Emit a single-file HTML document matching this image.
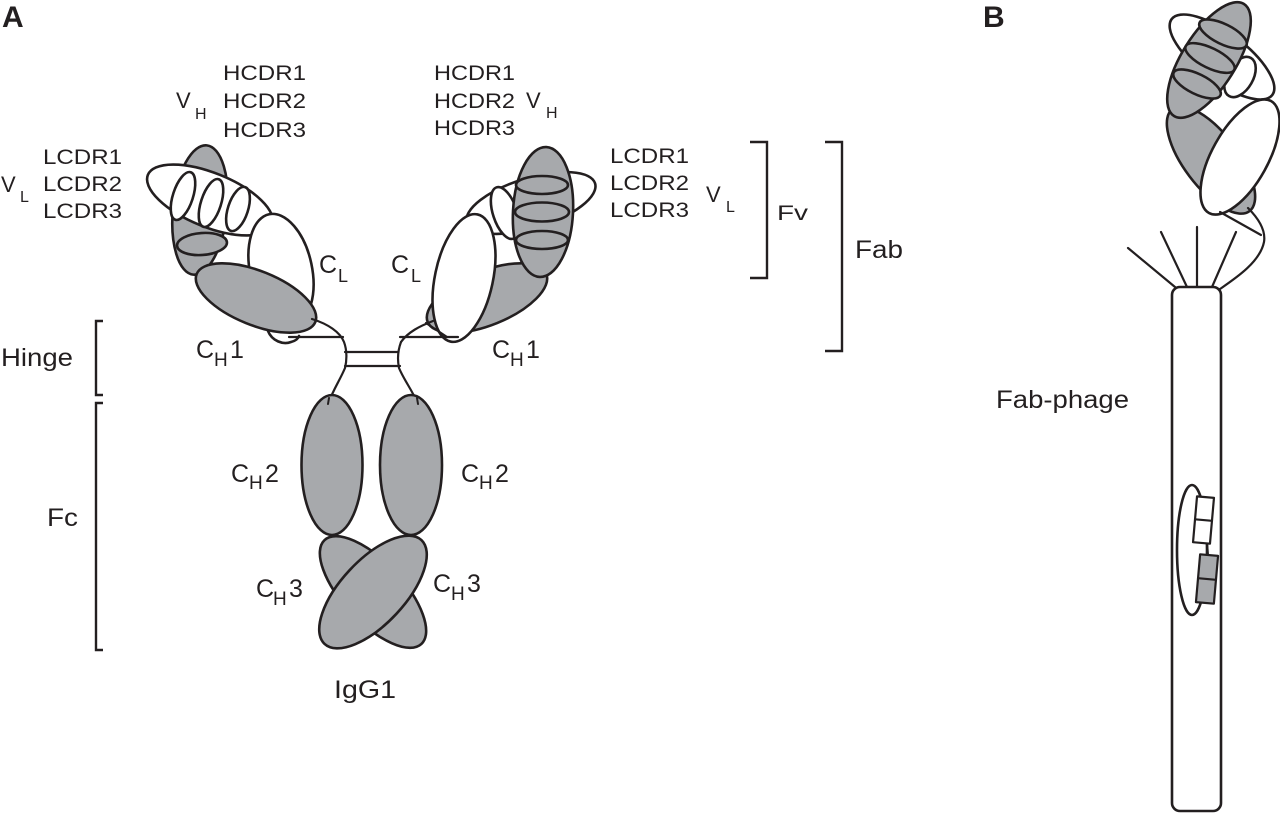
<!DOCTYPE html>
<html>
<head>
<meta charset="utf-8">
<style>
  html,body{margin:0;padding:0;background:#fff;}
  svg{display:block;}
  text{font-family:"Liberation Sans",Arial,sans-serif;fill:#231f20;}
</style>
</head>
<body>
<svg width="1280" height="813" viewBox="0 0 1280 813" xmlns="http://www.w3.org/2000/svg">
  <rect width="1280" height="813" fill="#fff"/>
  <g stroke="#231f20" stroke-width="2.6" stroke-linejoin="round" stroke-linecap="round">

    <!-- ===== LEFT FAB ===== -->
    <ellipse cx="200" cy="210" rx="27" ry="65" transform="rotate(6 200 210)" fill="#a7a9ac"/>
    <ellipse cx="210" cy="200" rx="67" ry="27" transform="rotate(22 210 200)" fill="#fff"/>
    <ellipse cx="183" cy="196" rx="10" ry="25" transform="rotate(18 183 196)" fill="#fff"/>
    <ellipse cx="211" cy="203" rx="10" ry="25" transform="rotate(18 211 203)" fill="#fff"/>
    <ellipse cx="238" cy="209" rx="10" ry="23" transform="rotate(18 238 209)" fill="#fff"/>
    <ellipse cx="202" cy="244" rx="25" ry="11" transform="rotate(-4 202 244)" fill="#a7a9ac"/>
    <ellipse cx="281" cy="270" rx="31" ry="57" transform="rotate(-12 281 270)" fill="#fff"/>
    <path d="M268,331 C272,341 283,345 291,342 C295,341 298,339 299,336" fill="#fff"/>
    <ellipse cx="256" cy="298" rx="64" ry="27" transform="rotate(22 256 298)" fill="#a7a9ac"/>

    <!-- ===== RIGHT FAB ===== -->
    <ellipse cx="531" cy="203" rx="67" ry="25" transform="rotate(-17 531 203)" fill="#fff"/>
    <ellipse cx="505" cy="213" rx="12" ry="27" transform="rotate(-18 505 213)" fill="#fff"/>
    <ellipse cx="487" cy="298" rx="64" ry="27" transform="rotate(-22 487 298)" fill="#a7a9ac"/>
    <ellipse cx="464" cy="278" rx="29" ry="65" transform="rotate(12 464 278)" fill="#fff"/>
    <ellipse cx="543" cy="212" rx="30" ry="65" transform="rotate(3 543 212)" fill="#a7a9ac"/>
    <ellipse cx="542" cy="185" rx="26" ry="9" fill="#a7a9ac"/>
    <ellipse cx="542" cy="212" rx="27" ry="9.5" fill="#a7a9ac"/>
    <ellipse cx="542" cy="240" rx="26" ry="9" fill="#a7a9ac"/>

    <!-- ===== HINGE ===== -->
    <g fill="none" stroke-width="2.2">
      <path d="M312,319 C328,324 340,332 344,342 C347,350 347,360 345,368 C340,380 333,390 329,402"/>
      <path d="M289,337 L343,337"/>
      <path d="M401,342 C398,350 397,358 399,368 C404,380 412,390 417,402"/>
      <path d="M401,342 C408,332 420,326 433,321"/>
      <path d="M400,337 L458,337"/>
      <path d="M426,323 L447,337"/>
      <path d="M345,352 L398,352"/>
      <path d="M345,366 L400,366"/>
    </g>

    <!-- ===== FC ===== -->
    <ellipse cx="332" cy="465" rx="30.5" ry="70" fill="#a7a9ac"/>
    <ellipse cx="411" cy="465" rx="31" ry="70" fill="#a7a9ac"/>
    <path d="M329,398 L328,404 M417,398 L418,404" fill="none" stroke-width="2"/>
    <ellipse cx="373" cy="592" rx="71" ry="30" transform="rotate(47 373 592)" fill="#a7a9ac"/>
    <ellipse cx="373" cy="592" rx="71" ry="32" transform="rotate(-47 373 592)" fill="#a7a9ac"/>

    <!-- ===== BRACKETS ===== -->
    <g fill="none" stroke-width="2.4" stroke-linecap="butt" stroke-linejoin="miter">
      <path d="M103,321 L96,321 L96,395 L103,395"/>
      <path d="M103,403 L96,403 L96,650 L103,650"/>
      <path d="M750,142 L767,142 L767,278 L750,278"/>
      <path d="M825,142 L842,142 L842,351 L825,351"/>
    </g>

    <!-- ===== PANEL B ===== -->
    <ellipse cx="1222" cy="57" rx="63" ry="24" transform="rotate(37 1222 57)" fill="#fff"/>
    <ellipse cx="1240" cy="77" rx="13" ry="22" transform="rotate(30 1240 77)" fill="#fff"/>
    <ellipse cx="1211" cy="160" rx="64" ry="27" transform="rotate(53 1211 160)" fill="#a7a9ac"/>
    <ellipse cx="1209" cy="60" rx="66" ry="27" transform="rotate(-58 1209 60)" fill="#a7a9ac"/>
    <ellipse cx="1223" cy="34" rx="26" ry="10" transform="rotate(26 1223 34)" fill="#a7a9ac"/>
    <ellipse cx="1210" cy="58" rx="27" ry="10" transform="rotate(26 1210 58)" fill="#a7a9ac"/>
    <ellipse cx="1197" cy="84" rx="26" ry="10" transform="rotate(26 1197 84)" fill="#a7a9ac"/>
    <ellipse cx="1240" cy="157" rx="64" ry="28" transform="rotate(-61 1240 157)" fill="#fff"/>
    <g fill="none" stroke-width="2.2">
      <path d="M1220,212 L1261,235"/>
      <path d="M1248,208 C1258,218 1266,230 1264,242 C1260,262 1236,278 1220,289"/>
      <path d="M1128,248 L1175,287"/>
      <path d="M1161,232 L1187,287"/>
      <path d="M1197,227 L1197,287"/>
      <path d="M1236,232 L1212,287"/>
    </g>
    <rect x="1172" y="287" width="49" height="524" rx="8" ry="8" fill="#fff"/>
    <ellipse cx="1192" cy="550" rx="15" ry="65" fill="none"/>
    <g stroke-width="2.2">
      <path d="M1207,543 L1208,556" fill="none"/>
      <rect x="1195" y="497" width="17" height="46" transform="rotate(5 1203 520)" fill="#fff"/>
      <path d="M1195,520 L1212,520" transform="rotate(5 1203 520)"/>
      <rect x="1198" y="555" width="18" height="48" transform="rotate(5 1207 579)" fill="#a7a9ac"/>
      <path d="M1198,579 L1216,579" transform="rotate(5 1207 579)"/>
    </g>
  </g>

  <!-- ===== TEXT ===== -->
  <text x="2" y="27" font-size="30" font-weight="bold">A</text>
  <text x="983" y="27" font-size="30" font-weight="bold">B</text>

  <text x="223" y="80" font-size="21" textLength="83" lengthAdjust="spacingAndGlyphs">HCDR1</text>
  <text x="223" y="108" font-size="21" textLength="83" lengthAdjust="spacingAndGlyphs">HCDR2</text>
  <text x="223" y="137" font-size="21" textLength="83" lengthAdjust="spacingAndGlyphs">HCDR3</text>
  <text x="176" y="108" font-size="22">V</text>
  <text x="195" y="119" font-size="16">H</text>

  <text x="43" y="164" font-size="21" textLength="79" lengthAdjust="spacingAndGlyphs">LCDR1</text>
  <text x="43" y="191" font-size="21" textLength="79" lengthAdjust="spacingAndGlyphs">LCDR2</text>
  <text x="43" y="218" font-size="21" textLength="79" lengthAdjust="spacingAndGlyphs">LCDR3</text>
  <text x="1" y="192" font-size="22">V</text>
  <text x="20" y="202" font-size="16">L</text>

  <text x="434" y="80" font-size="21" textLength="81" lengthAdjust="spacingAndGlyphs">HCDR1</text>
  <text x="434" y="108" font-size="21" textLength="81" lengthAdjust="spacingAndGlyphs">HCDR2</text>
  <text x="434" y="135" font-size="21" textLength="81" lengthAdjust="spacingAndGlyphs">HCDR3</text>
  <text x="526" y="108" font-size="22">V</text>
  <text x="546" y="118" font-size="16">H</text>

  <text x="610" y="163" font-size="21" textLength="79" lengthAdjust="spacingAndGlyphs">LCDR1</text>
  <text x="610" y="190" font-size="21" textLength="79" lengthAdjust="spacingAndGlyphs">LCDR2</text>
  <text x="610" y="217" font-size="21" textLength="79" lengthAdjust="spacingAndGlyphs">LCDR3</text>
  <text x="706" y="202" font-size="22">V</text>
  <text x="726" y="212" font-size="16">L</text>

  <text x="777" y="220" font-size="21" textLength="31" lengthAdjust="spacingAndGlyphs">Fv</text>
  <text x="855" y="258" font-size="25" textLength="48" lengthAdjust="spacingAndGlyphs">Fab</text>
  <text x="1" y="366" font-size="25" textLength="72" lengthAdjust="spacingAndGlyphs">Hinge</text>
  <text x="47" y="526" font-size="25" textLength="31" lengthAdjust="spacingAndGlyphs">Fc</text>

  <!-- C_L -->
  <text x="319" y="273" font-size="25">C</text>
  <text x="338" y="282" font-size="18">L</text>
  <text x="391" y="273" font-size="25">C</text>
  <text x="411" y="282" font-size="18">L</text>

  <!-- C_H1 -->
  <text x="196" y="358" font-size="25">C</text>
  <text x="214" y="366" font-size="19">H</text>
  <text x="230" y="358" font-size="25">1</text>
  <text x="492" y="358" font-size="25">C</text>
  <text x="510" y="366" font-size="19">H</text>
  <text x="526" y="358" font-size="25">1</text>

  <!-- C_H2 -->
  <text x="231" y="482" font-size="25">C</text>
  <text x="249" y="489" font-size="19">H</text>
  <text x="265" y="482" font-size="25">2</text>
  <text x="461" y="482" font-size="25">C</text>
  <text x="479" y="489" font-size="19">H</text>
  <text x="495" y="482" font-size="25">2</text>

  <!-- C_H3 -->
  <text x="256" y="597" font-size="25">C</text>
  <text x="273" y="605" font-size="19">H</text>
  <text x="289" y="597" font-size="25">3</text>
  <text x="433" y="592" font-size="25">C</text>
  <text x="451" y="600" font-size="19">H</text>
  <text x="467" y="592" font-size="25">3</text>

  <text x="334" y="698" font-size="25" textLength="62" lengthAdjust="spacingAndGlyphs">IgG1</text>
  <text x="996" y="408" font-size="25" textLength="133" lengthAdjust="spacingAndGlyphs">Fab-phage</text>
</svg>
</body>
</html>
